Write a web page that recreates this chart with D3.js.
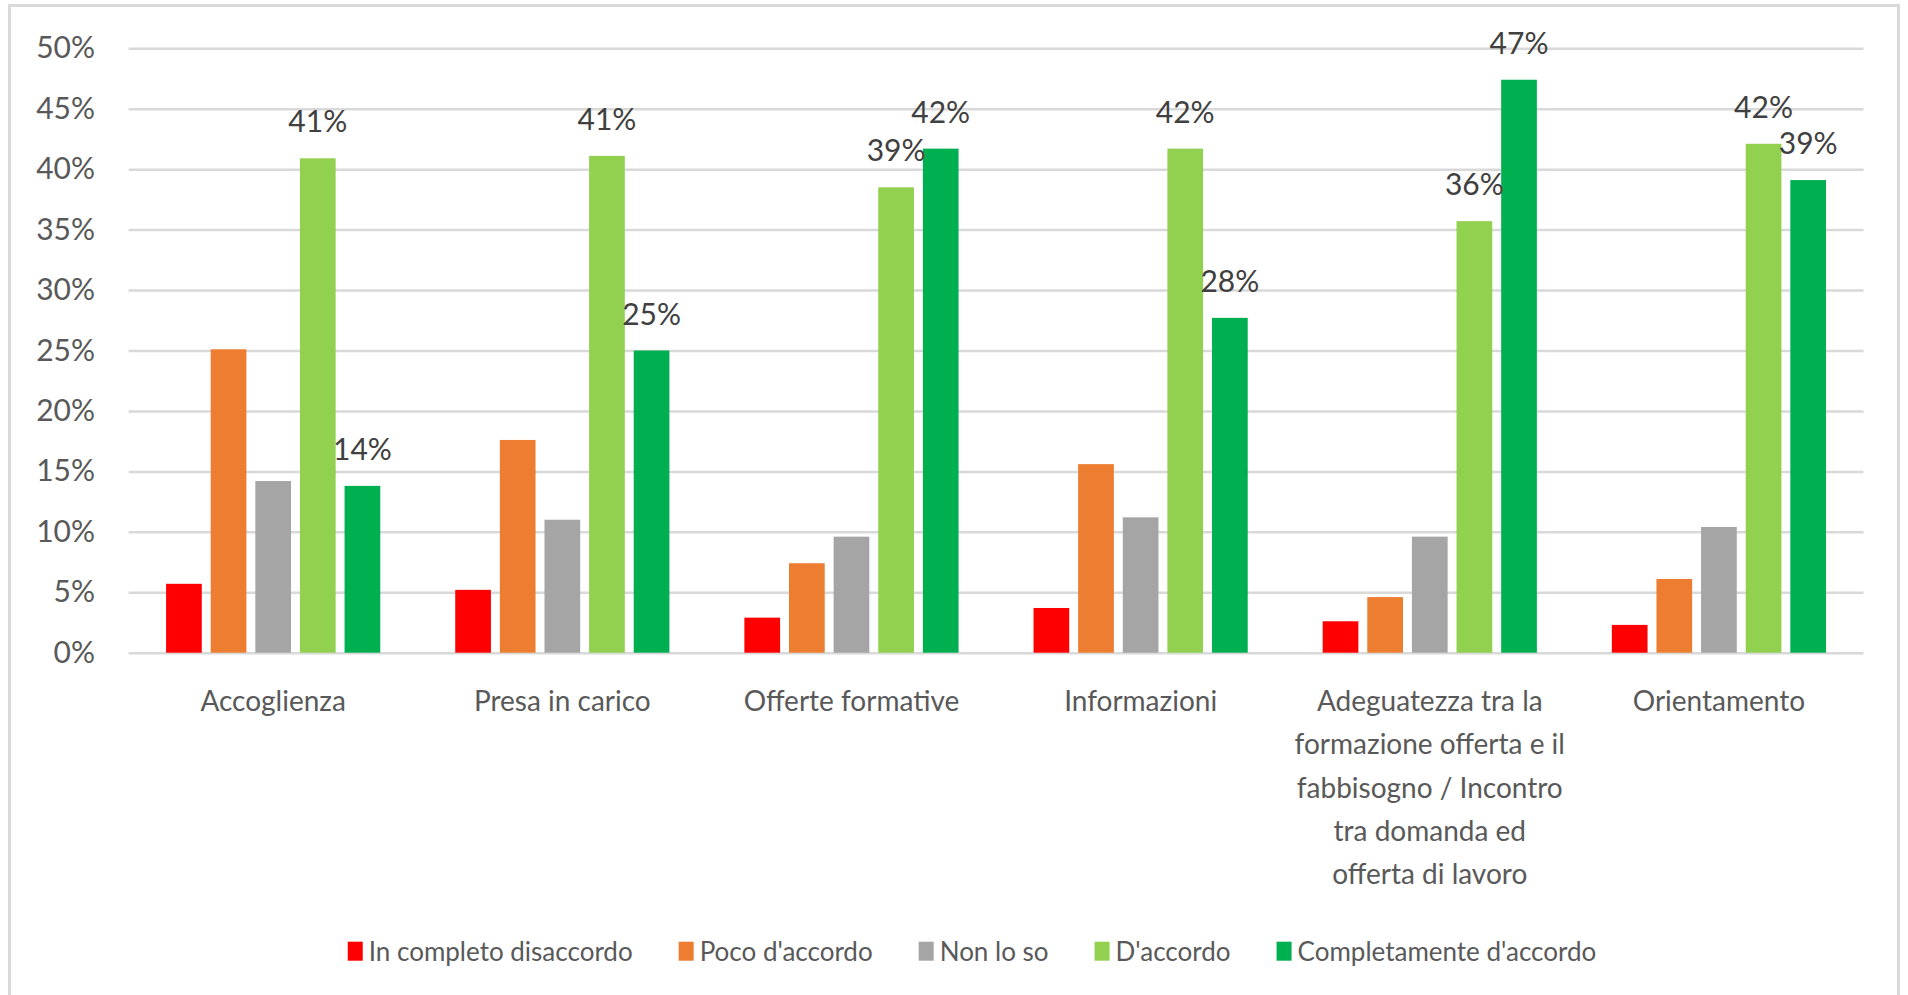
<!DOCTYPE html>
<html>
<head>
<meta charset="utf-8">
<script src="https://cdn.jsdelivr.net/npm/d3@7"></script>
<style>
  html, body { margin: 0; padding: 0; background: #fff; }
  svg { display: block; }
  text { font-family: Lato, "Open Sans", sans-serif; }
</style>
</head>
<body>
<svg id="chart" width="1908" height="995"></svg>
<script>
// ---- data ----
const categories = [
  ["Accoglienza"],
  ["Presa in carico"],
  ["Offerte formative"],
  ["Informazioni"],
  ["Adeguatezza tra la", "formazione offerta e il", "fabbisogno / Incontro", "tra domanda ed", "offerta di lavoro"],
  ["Orientamento"]
];
const seriesNames = ["In completo disaccordo", "Poco d'accordo", "Non lo so", "D'accordo", "Completamente d'accordo"];
const inCompletoDisaccordo   = [5.7, 5.2, 2.9, 3.7, 2.6, 2.3];
const pocoDaccordo           = [25.1, 17.6, 7.4, 15.6, 4.6, 6.1];
const nonLoSo                = [14.2, 11.0, 9.6, 11.2, 9.6, 10.4];
const daccordo               = [40.9, 41.1, 38.5, 41.7, 35.7, 42.1];
const completamenteDaccordo  = [13.8, 25.0, 41.7, 27.7, 47.4, 39.1];
const seriesValues = [inCompletoDisaccordo, pocoDaccordo, nonLoSo, daccordo, completamenteDaccordo];
const labelledSeries = ["D'accordo", "Completamente d'accordo"];
const yTicks = [0, 5, 10, 15, 20, 25, 30, 35, 40, 45, 50];
const colors = ["#FF0000", "#ED7D31", "#A5A5A5", "#92D050", "#00B050"];

// ---- layout ----
const svg = d3.select("#chart");
const plotLeft = 128.6, plotRight = 1863.5, plotTop = 48.3, plotBottom = 652.7;

svg.append("rect")
  .attr("x", 9.5).attr("y", 5.5).attr("width", 1889).attr("height", 1010)
  .attr("fill", "#fff").attr("stroke", "#d9d9d9").attr("stroke-width", 3);

const catKeys = categories.map(c => c.join(" "));
const x0 = d3.scaleBand().domain(catKeys).range([plotLeft, plotRight]).padding(0);
const x1 = d3.scaleBand().domain(seriesNames).range([0, x0.bandwidth()])
  .paddingInner(0.2).paddingOuter(0.84);
const y = d3.scaleLinear().domain([0, 50]).range([plotBottom, plotTop]);

// gridlines
const grid = svg.append("g")
  .attr("transform", `translate(${plotLeft},0)`)
  .call(d3.axisLeft(y).tickValues(yTicks).tickSize(-(plotRight - plotLeft)).tickFormat(""));
grid.select(".domain").remove();
grid.selectAll(".tick line").attr("stroke", "#d9d9d9").attr("stroke-width", 2.5);

// y axis labels
const yAxis = svg.append("g")
  .attr("transform", `translate(${plotLeft},0)`)
  .call(d3.axisLeft(y).tickValues(yTicks).tickSize(0).tickPadding(33.6).tickFormat(d => d + "%"));
yAxis.select(".domain").remove();
yAxis.selectAll("text")
  .attr("fill", "#595959")
  .style("font-family", "Lato, 'Open Sans', sans-serif")
  .style("font-size", "30px");

// bars
const rows = [];
catKeys.forEach((c, ci) => {
  seriesNames.forEach((s, si) => {
    rows.push({ cat: c, series: s, si, value: seriesValues[si][ci] });
  });
});

svg.append("g").selectAll("rect")
  .data(rows).join("rect")
  .attr("x", d => x0(d.cat) + x1(d.series))
  .attr("width", x1.bandwidth())
  .attr("y", d => y(d.value))
  .attr("height", d => y(0) - y(d.value))
  .attr("fill", d => colors[d.si]);

// data labels
svg.append("g").selectAll("text")
  .data(rows.filter(d => labelledSeries.includes(d.series))).join("text")
  .attr("x", d => x0(d.cat) + x1(d.series) + x1.bandwidth() / 2)
  .attr("y", d => y(d.value) - 26)
  .attr("text-anchor", "middle")
  .attr("fill", "#404040")
  .style("font-size", "30px")
  .text(d => Math.round(d.value) + "%");

// category labels
const catG = svg.append("g");
categories.forEach((lines, ci) => {
  const cx = x0(catKeys[ci]) + x0.bandwidth() / 2;
  lines.forEach((ln, li) => {
    catG.append("text")
      .attr("x", cx)
      .attr("y", 711 + li * 43.3)
      .attr("text-anchor", "middle")
      .attr("fill", "#595959")
      .style("font-size", "28px")
      .text(ln);
  });
});

// legend
const legend = svg.append("g");
let lx = 0;
seriesNames.forEach((s, si) => {
  const g = legend.append("g");
  g.append("rect").attr("x", 0).attr("y", 941.7).attr("width", 15).attr("height", 19)
    .attr("fill", colors[si]);
  const t = g.append("text").attr("x", 21).attr("y", 961)
    .attr("fill", "#595959").style("font-size", "26px").text(s);
  const w = 21 + t.node().getComputedTextLength();
  g.attr("transform", `translate(${lx},0)`);
  lx += w + 46;
});
const totalW = lx - 46;
legend.attr("transform", `translate(${972 - totalW / 2},0)`);
</script>
</body>
</html>
